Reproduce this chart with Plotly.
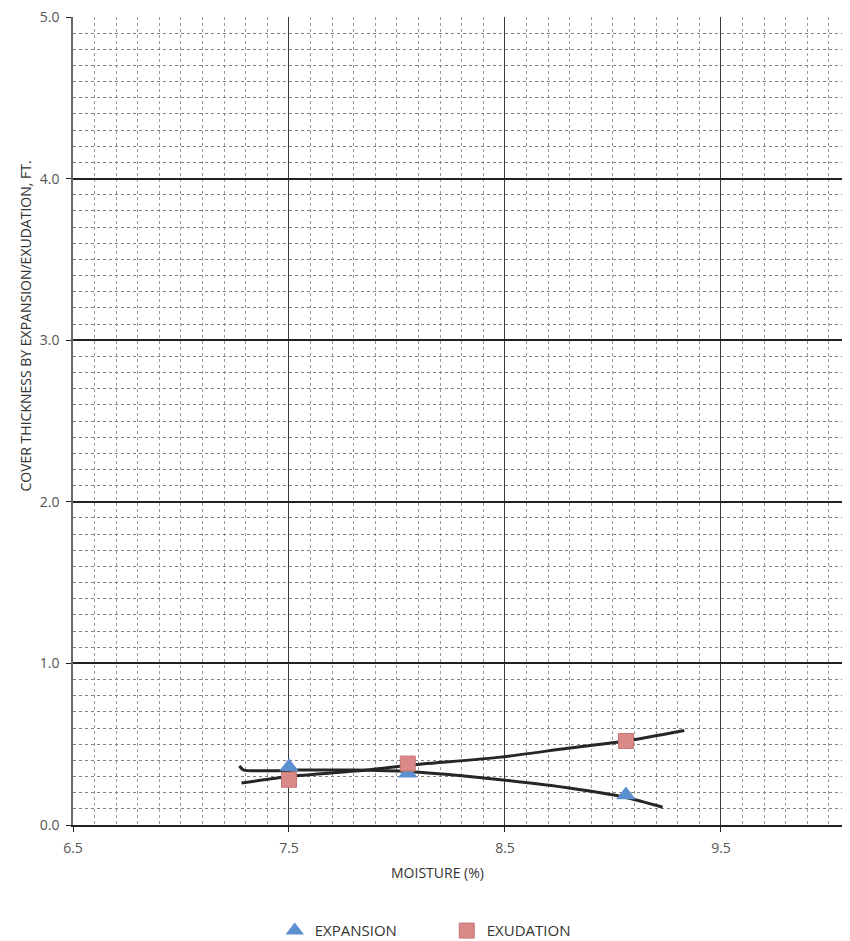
import plotly.graph_objects as go

# Data
moisture = [7.5, 8.05, 9.06]
expansion = [0.36, 0.32, 0.185]
exudation = [0.28, 0.38, 0.52]

# Hand-drawn trend lines
exp_line_x = [7.27, 7.29, 7.55, 7.8, 8.06, 8.3, 8.48, 8.79, 9.06, 9.23]
exp_line_y = [0.365, 0.34, 0.34, 0.34, 0.33, 0.305, 0.28, 0.23, 0.17, 0.11]
exu_line_x = [7.28, 7.5, 7.86, 8.06, 8.48, 8.79, 9.06, 9.33]
exu_line_y = [0.26, 0.30, 0.34, 0.37, 0.42, 0.475, 0.52, 0.585]

x_ticks = [6.5, 7.5, 8.5, 9.5]
y_ticks = [0.0, 1.0, 2.0, 3.0, 4.0, 5.0]

fig = go.Figure()

fig.add_trace(go.Scatter(x=exp_line_x, y=exp_line_y, mode="lines",
                         line=dict(color="#262626", width=3, shape="spline", smoothing=0.6),
                         showlegend=False, hoverinfo="skip"))
fig.add_trace(go.Scatter(x=exu_line_x, y=exu_line_y, mode="lines",
                         line=dict(color="#262626", width=3, shape="spline", smoothing=0.6),
                         showlegend=False, hoverinfo="skip"))

fig.add_trace(go.Scatter(x=moisture, y=expansion, mode="markers", name="EXPANSION",
                         marker=dict(symbol="triangle-up", size=17, color="#5b8fd0",
                                     line=dict(width=0))))
fig.add_trace(go.Scatter(x=moisture, y=exudation, mode="markers", name="EXUDATION",
                         marker=dict(symbol="square", size=15, color="#d98a88",
                                     line=dict(width=1, color="#c47474"))))

font_family = "Open Sans, Lato, sans-serif"

fig.update_layout(
    width=842, height=933,
    margin=dict(l=65, r=7, t=9, b=116, autoexpand=False),
    paper_bgcolor="white", plot_bgcolor="white",
    font=dict(family=font_family, size=12, color="#444"),
    legend=dict(orientation="h", x=0.262, xanchor="left", y=-0.131, yanchor="middle",
                font=dict(size=15, color="#333"), itemwidth=30,
                traceorder="normal", entrywidthmode="pixels", entrywidth=127),
    showlegend=True,
    annotations=[
        dict(text="COVER THICKNESS BY EXPANSION/EXUDATION, FT.", xref="paper", yref="paper",
             x=-0.0623, y=0.617, xanchor="center", yanchor="middle", textangle=-90,
             showarrow=False, font=dict(size=14, color="#333", family=font_family)),
        dict(text="MOISTURE (%)", xref="paper", yref="paper",
             x=(437.5 - 73) / 770, y=-(872 - 825) / 808, xanchor="center", yanchor="middle",
             showarrow=False, font=dict(size=14, color="#333", family=font_family)),
    ],
)

fig.update_xaxes(
    range=[6.5, 10.065], tickvals=x_ticks, ticktext=[f"{v:.1f}" for v in x_ticks],
    automargin=False, ticklabeloverflow="allow",
    showgrid=True, gridcolor="#3a3a3a", gridwidth=1.2,
    minor=dict(dtick=0.1, tick0=6.5, showgrid=True, gridcolor="#9a9a9a", gridwidth=1,
               griddash="dot", ticks=""),
    showline=True, linecolor="#222", linewidth=2,
    ticks="outside", ticklen=5, tickcolor="#222",
    tickfont=dict(size=14, color="#555"), ticklabelstandoff=4,
    zeroline=False,
)
fig.update_yaxes(
    range=[0, 5.0], tickvals=y_ticks, ticktext=[f"{v:.1f}" for v in y_ticks],
    automargin=False, ticklabeloverflow="allow",
    showgrid=True, gridcolor="#222", gridwidth=1.5,
    minor=dict(dtick=0.1, tick0=0, showgrid=True, gridcolor="#808080", gridwidth=1,
               griddash="dot", ticks=""),
    showline=True, linecolor="#666", linewidth=1.5,
    ticks="outside", ticklen=5, tickcolor="#222",
    tickfont=dict(size=14, color="#555"), ticklabelstandoff=4,
    zeroline=False,
)

fig.write_html("out.html")
